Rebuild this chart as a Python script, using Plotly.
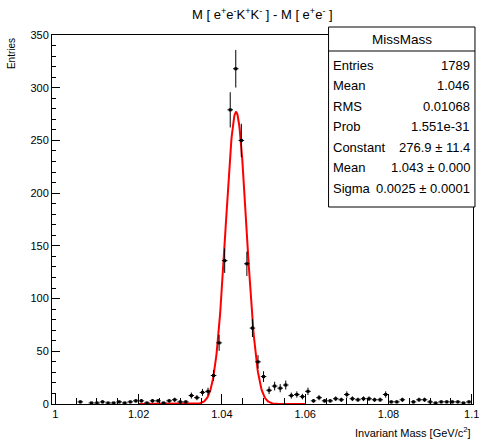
import numpy as np
import plotly.graph_objects as go

# ---- data ----
x_min, x_max, n_bins = 1.0, 1.1, 75
counts = [0, 0, 0, 0, 2, 0, 1, 1, 2, 1, 1, 2, 1, 2, 3,
          3, 1, 3, 3, 1, 3, 4, 2, 2, 8, 6, 11, 12, 27, 58,
          136, 279, 318, 250, 133, 72, 40, 26, 13, 17, 15, 18, 8, 9, 7,
          12, 3, 6, 3, 3, 5, 4, 9, 5, 4, 5, 5, 4, 4, 9,
          2, 2, 4, 0, 2, 4, 4, 2, 1, 2, 2, 2, 2, 1, 2]
fit_const, fit_mean, fit_sigma = 276.9, 1.0434, 0.0025
fit_lo, fit_hi = 1.02, 1.06
x_ticks = [1.0, 1.02, 1.04, 1.06, 1.08, 1.1]
x_tick_labels = ["1", "1.02", "1.04", "1.06", "1.08", "1.1"]
stats_labels = ["Entries", "Mean", "RMS", "Prob", "Constant", "Mean", "Sigma"]
stats_values = ["1789", "1.046", "0.01068", "1.551e-31",
                "276.9 \u00b1 11.4", "1.043 \u00b1 0.000", "0.0025 \u00b1 0.0001"]

W, H = 484, 443
L, R, T, B = 52, 479, 35, 404
FONT = "Liberation Sans Narrow, Liberation Sans, Arial, sans-serif"

bw = (x_max - x_min) / n_bins
centers = x_min + bw * (np.arange(n_bins) + 0.5)
cnt = np.array(counts, dtype=float)
mask = cnt > 0
xs = centers[mask]
ys = cnt[mask]
errs = np.sqrt(ys)

fig = go.Figure()
fx = np.linspace(fit_lo, fit_hi, 400)
fy = fit_const * np.exp(-0.5 * ((fx - fit_mean) / fit_sigma) ** 2)
fig.add_trace(go.Scatter(x=fx, y=fy, mode="lines",
                         line=dict(color="#ff0000", width=2), hoverinfo="skip"))
fig.add_trace(go.Scatter(
    x=xs, y=ys, mode="markers",
    marker=dict(symbol="square", size=3, color="black"),
    error_y=dict(type="data", array=errs, width=0, color="black", thickness=1),
    error_x=dict(type="constant", value=bw / 2, width=0, color="black", thickness=1),
))


def px(xp):
    return (xp - L) / (R - L)


def py(yp):
    return (B - yp) / (B - T)


shapes = []
annotations = []
# stats box
shapes.append(dict(type="rect", xref="paper", yref="paper",
                   x0=px(332.5), x1=px(481), y0=py(207), y1=py(27),
                   line=dict(color="black", width=1), fillcolor="white", layer="above"))
shapes.append(dict(type="line", xref="paper", yref="paper",
                   x0=px(332.5), x1=px(481), y0=py(51), y1=py(51),
                   line=dict(color="black", width=1), layer="above"))
SF = 13
annotations.append(dict(xref="paper", yref="paper", x=px(407), y=py(40),
                        text="MissMass", showarrow=False,
                        font=dict(family=FONT, size=13.5, color="black"),
                        xanchor="center", yanchor="middle"))
for k, (lab, val) in enumerate(zip(stats_labels, stats_values)):
    yy = 65 + 20.55 * k
    annotations.append(dict(xref="paper", yref="paper", x=px(335), y=py(yy),
                            text=lab, showarrow=False,
                            font=dict(family=FONT, size=SF, color="black"),
                            xanchor="left", yanchor="middle"))
    annotations.append(dict(xref="paper", yref="paper", x=px(478), y=py(yy),
                            text=val, showarrow=False,
                            font=dict(family=FONT, size=SF, color="black"),
                            xanchor="right", yanchor="middle"))

# title
annotations.append(dict(xref="paper", yref="paper", x=px(266), y=py(14),
                        text="M [ e<sup>+</sup>e<sup>-</sup>K<sup>+</sup>K<sup>-</sup> ] - M [ e<sup>+</sup>e<sup>-</sup> ]",
                        showarrow=False, font=dict(family=FONT, size=13, color="black"),
                        xanchor="center", yanchor="middle"))
# axis titles
annotations.append(dict(xref="paper", yref="paper", x=px(11), y=py(36),
                        text="Entries", showarrow=False, textangle=-90,
                        font=dict(family="Liberation Sans, Arial, sans-serif", size=10, color="black"),
                        xanchor="center", yanchor="top"))
annotations.append(dict(xref="paper", yref="paper", x=px(479), y=py(432),
                        text="Invariant Mass [GeV/c<sup>2</sup>]", showarrow=False,
                        font=dict(family=FONT, size=11, color="black"),
                        xanchor="right", yanchor="middle"))

fig.update_layout(
    width=W, height=H,
    margin=dict(l=L, r=W - R, t=T, b=H - B, pad=0),
    paper_bgcolor="white", plot_bgcolor="white",
    showlegend=False,
    shapes=shapes, annotations=annotations,
    xaxis=dict(range=[0.9992, 1.1003], showgrid=False, zeroline=False,
               showline=True, linecolor="black", linewidth=1, mirror=True,
               ticks="inside", ticklen=10, tickcolor="black", tickwidth=1,
               tickvals=x_ticks, ticktext=x_tick_labels,
               ticklabeloverflow="allow",
               minor=dict(dtick=0.005, tick0=1.0, ticks="inside", ticklen=6,
                          tickcolor="black", showgrid=False),
               tickfont=dict(family=FONT, size=11, color="black")),
    yaxis=dict(range=[0, 350], showgrid=False, zeroline=False,
               showline=True, linecolor="black", linewidth=1, mirror=True,
               ticks="inside", ticklen=8, tickcolor="black", tickwidth=1,
               dtick=50, tick0=0,
               minor=dict(dtick=10, ticks="inside", ticklen=4,
                          tickcolor="black", showgrid=False),
               tickfont=dict(family=FONT, size=11, color="black")),
)

fig.write_html("out.html", config={"displayModeBar": False},
               post_script="document.body.style.margin='0';")
